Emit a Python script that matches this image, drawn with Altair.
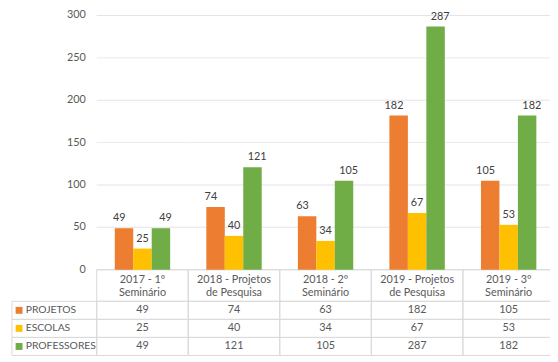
import altair as alt
import pandas as pd

# ---------------- data ----------------
categories = [
    "2017 - 1º\nSeminário",
    "2018 - Projetos\nde Pesquisa",
    "2018 - 2º\nSeminário",
    "2019 - Projetos\nde Pesquisa",
    "2019 - 3º\nSeminário",
]
series_names = ["PROJETOS", "ESCOLAS", "PROFESSORES"]
projetos = [49, 74, 63, 182, 105]
escolas = [25, 40, 34, 67, 53]
professores = [49, 121, 105, 287, 182]
series_colors = ["#ED7D31", "#FFC000", "#70AD47"]
y_ticks = [0, 50, 100, 150, 200, 250, 300]

values = [projetos, escolas, professores]

# ---------------- layout ----------------
W, H = 546, 345
X_START, STEP = 86, 92.9
X_END = X_START + STEP * len(categories)
Y_ZERO = 258
HEADER_UNITS = 1.75
ROW_UNITS = HEADER_UNITS + len(series_names)
TABLE_TOP, TABLE_BOTTOM = 258, 345
GRID = "#D9D9D9"
TXT = "#595959"
FONT = "Lato"
FS = 11
KEY_POS = 0.084   # legend key position inside the label column (fraction)

rows = []
for si, s in enumerate(series_names):
    for ci, c in enumerate(categories):
        rows.append(dict(cat=c, series=s, value=values[si][ci],
                         r0=HEADER_UNITS + si, r1=HEADER_UNITS + si + 1,
                         rm=HEADER_UNITS + si + 0.5))
df = pd.DataFrame(rows)

grid_df = pd.DataFrame([dict(cat=c, tick=t) for t in y_ticks for c in categories])
tick_df = pd.DataFrame({"tick": y_ticks, "edge": 1.0})
hdr_df = pd.DataFrame({"cat": categories, "r0": 0.0, "r1": HEADER_UNITS, "rm": HEADER_UNITS / 2})
lab_df = pd.DataFrame({
    "series": series_names,
    "c0": 0.0, "c1": 1.0, "ck": KEY_POS,
    "r0": [HEADER_UNITS + i for i in range(len(series_names))],
    "r1": [HEADER_UNITS + i + 1 for i in range(len(series_names))],
    "rm": [HEADER_UNITS + i + 0.5 for i in range(len(series_names))],
})

# ---------------- scales ----------------
xs = alt.Scale(domain=categories, range=[X_START, X_END], paddingInner=0, paddingOuter=0)
xo = alt.Scale(domain=series_names, paddingInner=0, paddingOuter=0.98)
ys = alt.Scale(domain=[0, 300], range=[Y_ZERO, 0], nice=False)
rs = alt.Scale(domain=[0, ROW_UNITS], range=[TABLE_TOP, TABLE_BOTTOM], nice=False, zero=False)
ls = alt.Scale(domain=[0, 1], range=[0, X_START], nice=False, zero=False)
cs = alt.Scale(domain=series_names, range=series_colors)

X = lambda: alt.X("cat:N", scale=xs, axis=None)

# table cells
hdr_cells = alt.Chart(hdr_df).mark_rect(fill="white", fillOpacity=0, stroke=GRID, strokeWidth=1).encode(
    x=X(), y=alt.Y("r0:Q", scale=rs, axis=None), y2="r1:Q")
data_cells = alt.Chart(df).mark_rect(fill="white", fillOpacity=0, stroke=GRID, strokeWidth=1).encode(
    x=X(), y=alt.Y("r0:Q", scale=rs, axis=None), y2="r1:Q")
lab_cells = alt.Chart(lab_df).mark_rect(fill="white", fillOpacity=0, stroke=GRID, strokeWidth=1).encode(
    x=alt.X("c0:Q", scale=ls, axis=None), x2="c1:Q",
    y=alt.Y("r0:Q", scale=rs, axis=None), y2="r1:Q")

# gridlines
grid = alt.Chart(grid_df).mark_tick(color=GRID, thickness=1, size=STEP).encode(
    x=X(), y=alt.Y("tick:Q", scale=ys, axis=None))

# y tick labels (right edge of the label column = start of the plot)
ylab = alt.Chart(tick_df).mark_text(align="right", baseline="middle", dx=-11, color=TXT,
                                     fontSize=FS, font=FONT).encode(
    x=alt.X("edge:Q", scale=ls, axis=None),
    y=alt.Y("tick:Q", scale=ys, axis=None), text="tick:Q")

bars = alt.Chart(df).mark_bar().encode(
    x=X(), xOffset=alt.XOffset("series:N", scale=xo),
    y=alt.Y("value:Q", scale=ys, axis=None),
    color=alt.Color("series:N", scale=cs, legend=None))

bar_labels = alt.Chart(df).mark_text(baseline="middle", dy=-10, color="#404040",
                                     fontSize=FS, font=FONT).encode(
    x=X(), xOffset=alt.XOffset("series:N", scale=xo),
    y=alt.Y("value:Q", scale=ys, axis=None), text="value:Q")

hdr_text = alt.Chart(hdr_df).mark_text(lineBreak="\n", baseline="middle", dy=-6, lineHeight=14,
                                       color=TXT, fontSize=FS, font=FONT).encode(
    x=X(), y=alt.Y("rm:Q", scale=rs, axis=None), text="cat:N")

val_text = alt.Chart(df).mark_text(baseline="middle", color=TXT, fontSize=FS, font=FONT).encode(
    x=X(), y=alt.Y("rm:Q", scale=rs, axis=None), text="value:Q")

squares = alt.Chart(lab_df).mark_square(size=49, opacity=1, filled=True).encode(
    x=alt.X("ck:Q", scale=ls, axis=None),
    y=alt.Y("rm:Q", scale=rs, axis=None),
    color=alt.Color("series:N", scale=cs, legend=None))

lab_text = alt.Chart(lab_df).mark_text(align="left", baseline="middle", dx=14, color=TXT,
                                       fontSize=10.5, font=FONT).encode(
    x=alt.X("c0:Q", scale=ls, axis=None),
    y=alt.Y("rm:Q", scale=rs, axis=None), text="series:N")

chart = alt.layer(
    hdr_cells, data_cells, lab_cells, grid, ylab, bars, bar_labels,
    hdr_text, val_text, squares, lab_text
).resolve_scale(
    x="independent", y="independent", xOffset="independent"
).properties(
    width=W, height=H,
    autosize=alt.AutoSizeParams(type="none"),
    padding={"left": 4, "top": 5, "right": 0, "bottom": 3},
    background="white",
).configure_view(stroke=None)

chart.save("out.html", embed_options={"renderer": "svg", "actions": False})
